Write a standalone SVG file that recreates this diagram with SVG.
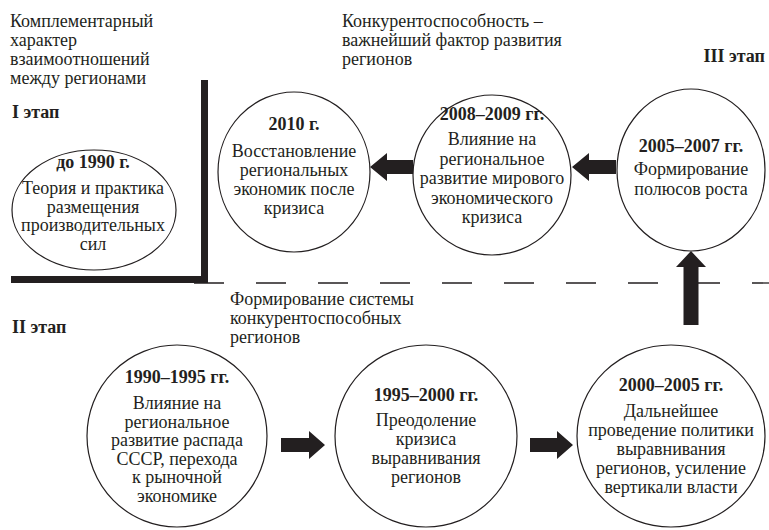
<svg xmlns="http://www.w3.org/2000/svg" width="769" height="530" viewBox="0 0 769 530">
<style>
text{font-family:"Liberation Serif","Times New Roman",serif;font-size:18px;fill:#231f20}
.b{font-weight:bold}
.c{text-anchor:middle}
.n{fill:#fff;stroke:#231f20;stroke-width:1.2}
.ar{fill:#231f20}
</style>
<rect width="769" height="530" fill="#fff"/>
<g id="divider">
<line x1="194" y1="283" x2="769" y2="283" stroke="#231f20" stroke-width="1.3" stroke-dasharray="30 32"/>
<rect x="201" y="80" width="7" height="203" fill="#231f20"/>
<rect x="11" y="276" width="197" height="7" fill="#231f20"/>
</g>
<g id="labels">
<text x="10" y="27">Комплементарный</text>
<text x="10" y="46">характер</text>
<text x="10" y="65">взаимоотношений</text>
<text x="10" y="84">между регионами</text>
<text x="12" y="118" class="b">I этап</text>
<text x="342" y="27">Конкурентоспособность –</text>
<text x="342" y="46">важнейший фактор развития</text>
<text x="342" y="65">регионов</text>
<text x="765" y="62" class="b" text-anchor="end">III этап</text>
<text x="230" y="305">Формирование системы</text>
<text x="230" y="324">конкурентоспособных</text>
<text x="230" y="343">регионов</text>
<text x="12" y="333" class="b">II этап</text>
</g>
<g id="connectors">
<polygon class="ar" points="370,167 387,153 387,160 413,160 413,174 387,174 387,181"/>
<polygon class="ar" points="572,167 589,153 589,160 616,160 616,174 589,174 589,181"/>
<polygon class="ar" points="691,251 706,267 698.5,267 698.5,325 683.5,325 683.5,267 676,267"/>
<polygon class="ar" points="281,438 309,438 309,431 325,445 309,459 309,452 281,452"/>
<polygon class="ar" points="530,438 557,438 557,431 573,445 557,459 557,452 530,452"/>
</g>
<g id="n1990">
<ellipse class="n" cx="94" cy="210" rx="82" ry="60"/>
<text x="93" y="168" class="b c">до 1990 г.</text>
<text x="93" y="194" class="c">Теория и практика</text>
<text x="93" y="212.5" class="c">размещения</text>
<text x="93" y="231" class="c">производительных</text>
<text x="93" y="249.5" class="c">сил</text>
</g>
<g id="n2010">
<ellipse class="n" cx="294" cy="172" rx="76" ry="80"/>
<text x="294" y="130" class="b c">2010 г.</text>
<text x="294" y="157" class="c">Восстановление</text>
<text x="294" y="176" class="c">региональных</text>
<text x="294" y="195" class="c">экономик после</text>
<text x="294" y="214" class="c">кризиса</text>
</g>
<g id="n2008">
<ellipse class="n" cx="492" cy="175" rx="79" ry="80"/>
<text x="492" y="120" class="b c">2008–2009 гг.</text>
<text x="492" y="145" class="c">Влияние на</text>
<text x="492" y="164.5" class="c">региональное</text>
<text x="492" y="184" class="c">развитие мирового</text>
<text x="492" y="203.5" class="c">экономического</text>
<text x="492" y="223" class="c">кризиса</text>
</g>
<g id="n2005">
<ellipse class="n" cx="691" cy="170" rx="74" ry="81"/>
<text x="691" y="152" class="b c">2005–2007 гг.</text>
<text x="691" y="175" class="c">Формирование</text>
<text x="691" y="195" class="c">полюсов роста</text>
</g>
<g id="n1990_1995">
<ellipse class="n" cx="177" cy="436" rx="90" ry="91"/>
<text x="177" y="383" class="b c">1990–1995 гг.</text>
<text x="177" y="409" class="c">Влияние на</text>
<text x="177" y="427.5" class="c">региональное</text>
<text x="177" y="446" class="c">развитие распада</text>
<text x="177" y="464.5" class="c">СССР, перехода</text>
<text x="177" y="483" class="c">к рыночной</text>
<text x="177" y="501.5" class="c">экономике</text>
</g>
<g id="n1995_2000">
<ellipse class="n" cx="426" cy="436" rx="91" ry="91"/>
<text x="426" y="401" class="b c">1995–2000 гг.</text>
<text x="426" y="426" class="c">Преодоление</text>
<text x="426" y="445" class="c">кризиса</text>
<text x="426" y="464" class="c">выравнивания</text>
<text x="426" y="483" class="c">регионов</text>
</g>
<g id="n2000_2005">
<ellipse class="n" cx="671" cy="436" rx="94" ry="91"/>
<text x="671" y="391" class="b c">2000–2005 гг.</text>
<text x="671" y="417" class="c">Дальнейшее</text>
<text x="671" y="436" class="c">проведение политики</text>
<text x="671" y="455" class="c">выравнивания</text>
<text x="671" y="474" class="c">регионов, усиление</text>
<text x="671" y="493" class="c">вертикали власти</text>
</g>
</svg>
